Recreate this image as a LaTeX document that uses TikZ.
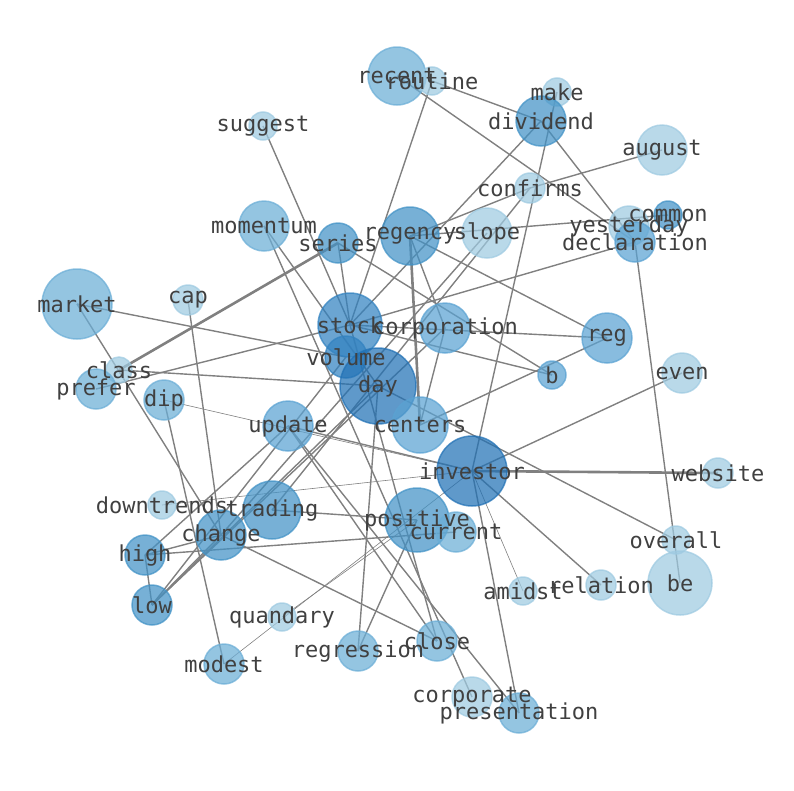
\documentclass[tikz,border=0pt]{standalone}
\usepackage{fontspec}
\setmonofont{DejaVu Sans Mono}
\pgfdeclarelayer{background}
\pgfsetlayers{background,main}
\definecolor{b1}{HTML}{9ECAE1}
\definecolor{b2}{HTML}{6BAED6}
\definecolor{b3}{HTML}{5AA2D2}
\definecolor{b4}{HTML}{4292C6}
\definecolor{b5}{HTML}{3282C0}
\definecolor{b6}{HTML}{2171B5}
\definecolor{txt}{HTML}{404040}
\begin{document}
\begin{tikzpicture}[x=1pt, y=-1pt,
  word/.style={circle, inner sep=0pt, line width=1.5pt, opacity=0.72},
  w1/.style={word, fill=b1, draw=b1},
  w2/.style={word, fill=b2, draw=b2},
  w3/.style={word, fill=b3, draw=b3},
  w4/.style={word, fill=b4, draw=b4},
  w5/.style={word, fill=b5, draw=b5},
  w6/.style={word, fill=b6, draw=b6},
  link/.style={draw=black!50, line width=1.4pt},
  thinlink/.style={draw=black!50, line width=0.6pt},
  thicklink/.style={draw=black!50, line width=2.6pt},
  tag/.style={font=\ttfamily\fontsize{22}{22}\selectfont, text=txt, inner sep=0pt}
]
\useasboundingbox (0,0) rectangle (794,790);

% words
\node[w2, minimum size=58pt] (recent) at (397,76) {};
\node[w1, minimum size=28pt] (routine) at (432,81) {};
\node[w1, minimum size=28pt] (make) at (557,92) {};
\node[w4, minimum size=50pt] (dividend) at (541,121) {};
\node[w1, minimum size=28pt] (suggest) at (263,126) {};
\node[w1, minimum size=50pt] (august) at (662,150) {};
\node[w1, minimum size=30pt] (confirms) at (530,188) {};
\node[w2, minimum size=50pt] (momentum) at (264,226) {};
\node[w4, minimum size=40pt] (series) at (338,243) {};
\node[w4, minimum size=58pt] (regency) at (410,236) {};
\node[w1, minimum size=50pt] (slope) at (487,233) {};
\node[w1, minimum size=40pt] (yesterday) at (629,226) {};
\node[w4, minimum size=28pt] (common) at (668,215) {};
\node[w3, minimum size=40pt] (declaration) at (635,242) {};
\node[w2, minimum size=70pt] (market) at (77,304) {};
\node[w1, minimum size=30pt] (cap) at (188,300) {};
\node[w5, minimum size=64pt] (stock) at (350,325) {};
\node[w3, minimum size=50pt] (corporation) at (445,328) {};
\node[w3, minimum size=50pt] (reg) at (607,338) {};
\node[w3, minimum size=28pt] (b) at (552,375) {};
\node[w1, minimum size=40pt] (even) at (682,373) {};
\node[w5, minimum size=42pt] (volume) at (346,357) {};
\node[w6, minimum size=76pt] (day) at (378,386) {};
\node[w1, minimum size=26pt] (class) at (119,370) {};
\node[w2, minimum size=40pt] (prefer) at (96,389) {};
\node[w2, minimum size=40pt] (dip) at (164,400) {};
\node[w3, minimum size=50pt] (update) at (288,426) {};
\node[w3, minimum size=56pt] (centers) at (420,425) {};
\node[w6, minimum size=70pt] (investor) at (472,471) {};
\node[w1, minimum size=30pt] (website) at (718,473) {};
\node[w1, minimum size=28pt] (downtrends) at (162,505) {};
\node[w4, minimum size=58pt] (trading) at (272,510) {};
\node[w4, minimum size=50pt] (change) at (221,535) {};
\node[w4, minimum size=64pt] (positive) at (417,520) {};
\node[w2, minimum size=40pt] (current) at (456,532) {};
\node[w4, minimum size=40pt] (high) at (145,555) {};
\node[w1, minimum size=28pt] (overall) at (676,540) {};
\node[w4, minimum size=40pt] (low) at (152,605) {};
\node[w1, minimum size=28pt] (amidst) at (523,591) {};
\node[w1, minimum size=30pt] (relation) at (601,585) {};
\node[w1, minimum size=64pt] (be) at (680,583) {};
\node[w1, minimum size=28pt] (quandary) at (282,617) {};
\node[w2, minimum size=40pt] (modest) at (224,664) {};
\node[w2, minimum size=40pt] (regression) at (358,651) {};
\node[w2, minimum size=40pt] (close) at (437,641) {};
\node[w1, minimum size=40pt] (corporate) at (472,697) {};
\node[w2, minimum size=40pt] (presentation) at (519,713) {};

% links
\begin{pgfonlayer}{background}
\draw[link] (suggest.center) -- (stock.center);
\draw[link] (routine.center) -- (stock.center);
\draw[link] (routine.center) -- (dividend.center);
\draw[link] (recent.center) -- (declaration.center);
\draw[link] (make.center) -- (investor.center);
\draw[link] (dividend.center) -- (stock.center);
\draw[link] (dividend.center) -- (declaration.center);
\draw[link] (confirms.center) -- (august.center);
\draw[link] (confirms.center) -- (regency.center);
\draw[link] (confirms.center) -- (trading.center);
\draw[link] (slope.center) -- (change.center);
\draw[link] (regency.center) -- (common.center);
\draw[link] (regency.center) -- (reg.center);
\draw[link] (regency.center) -- (corporation.center);
\draw[thicklink] (regency.center) -- (centers.center);
\draw[link] (declaration.center) -- (stock.center);
\draw[link] (declaration.center) -- (be.center);
\draw[link] (market.center) -- (volume.center);
\draw[link] (market.center) -- (change.center);
\draw[thicklink] (class.center) -- (series.center);
\draw[link] (class.center) -- (day.center);
\draw[link] (prefer.center) -- (stock.center);
\draw[link] (cap.center) -- (change.center);
\draw[link] (dip.center) -- (modest.center);
\draw[thinlink] (dip.center) -- (investor.center);
\draw[link] (momentum.center) -- (day.center);
\draw[link] (momentum.center) -- (corporate.center);
\draw[link] (series.center) -- (stock.center);
\draw[link] (series.center) -- (b.center);
\draw[link] (stock.center) -- (b.center);
\draw[link] (stock.center) -- (reg.center);
\draw[link] (stock.center) -- (close.center);
\draw[link] (corporation.center) -- (centers.center);
\draw[link] (corporation.center) -- (low.center);
\draw[link] (centers.center) -- (reg.center);
\draw[link] (day.center) -- (overall.center);
\draw[link] (day.center) -- (regression.center);
\draw[link] (update.center) -- (investor.center);
\draw[link] (update.center) -- (high.center);
\draw[link] (update.center) -- (close.center);
\draw[link] (update.center) -- (presentation.center);
\draw[thicklink] (investor.center) -- (website.center);
\draw[link] (investor.center) -- (even.center);
\draw[link] (investor.center) -- (relation.center);
\draw[link] (investor.center) -- (presentation.center);
\draw[thinlink] (investor.center) -- (amidst.center);
\draw[thinlink] (downtrends.center) -- (investor.center);
\draw[thinlink] (modest.center) -- (investor.center);
\draw[thinlink] (quandary.center) -- (positive.center);
\draw[link] (trading.center) -- (positive.center);
\draw[link] (regression.center) -- (positive.center);
\draw[link] (change.center) -- (close.center);
\draw[link] (high.center) -- (low.center);
\draw[link] (high.center) -- (change.center);
\draw[link] (high.center) -- (current.center);
\draw[link] (low.center) -- (change.center);
\draw[link] (low.center) -- (volume.center);
\draw[link] (low.center) -- (day.center);
\end{pgfonlayer}

% texts
\foreach \w in {recent, routine, make, dividend, suggest, august, confirms,
  momentum, series, regency, slope, yesterday, common, declaration, market,
  cap, stock, corporation, reg, b, even, volume, day, class, prefer, dip,
  update, centers, investor, website, downtrends, trading, change, positive,
  current, high, overall, low, amidst, relation, be, quandary, modest,
  regression, close, corporate, presentation}
  \node[tag] at (\w.center) {\w};
\end{tikzpicture}
\end{document}
